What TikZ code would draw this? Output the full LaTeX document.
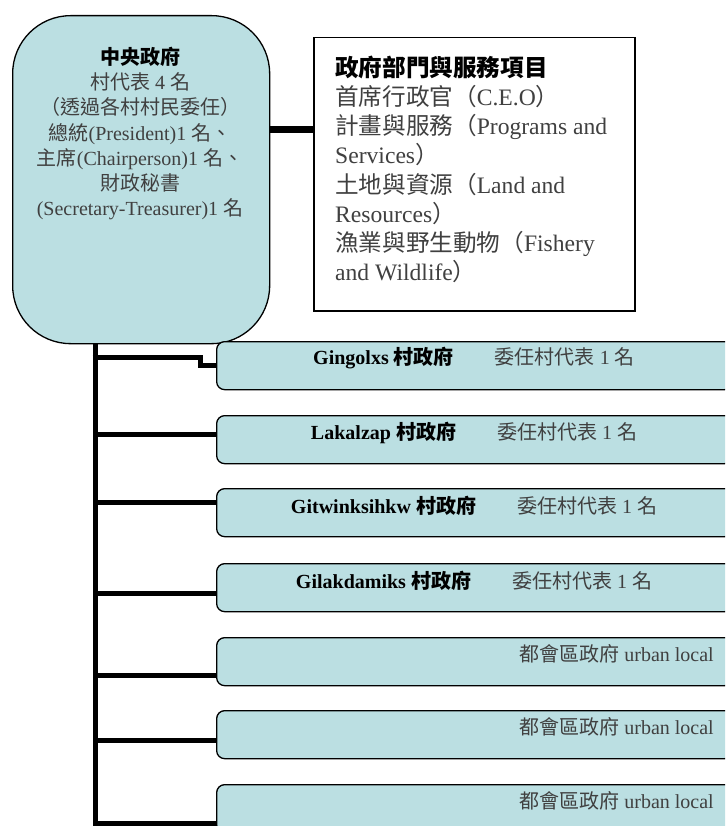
\documentclass[tikz,border=0pt]{standalone}
\usepackage{fontspec}
\setmainfont{Liberation Serif}
\newfontfamily\cjk{Noto Sans CJK TC}
\newcommand\C[1]{{\cjk #1}}
\definecolor{boxfill}{HTML}{BBDFE2}
\definecolor{txtgray}{HTML}{404040}
\begin{document}
\begin{tikzpicture}[x=1pt,y=-1pt,
  bar/.style={line width=5pt},
  thickbar/.style={line width=6.5pt},
  unitbox/.style={draw, line width=1.3pt, fill=boxfill, rounded corners=8pt,
    minimum width=516pt, minimum height=48pt, inner sep=0pt, anchor=north west},
  unittext/.style={font=\fontsize{20}{24}\selectfont, inner sep=0pt},
  urbantext/.style={unittext, text=txtgray, anchor=east},
  centralbox/.style={draw, line width=1.3pt, fill=boxfill, rounded corners=58pt,
    minimum width=257pt, minimum height=328pt, inner sep=0pt, anchor=north west},
  deptbox/.style={draw, line width=1.5pt, fill=white, minimum width=321pt,
    minimum height=273pt, inner sep=0pt, anchor=north west}
]
\useasboundingbox (0,0) rectangle (725,826);
\clip (0,0) rectangle (725,826);

% central government
\node[centralbox] (cg) at (12,15) {};
\node[font=\fontsize{20}{25.2}\selectfont, align=center, text=txtgray,
  inner sep=0pt, anchor=north] (cgt) at (140,47) {%
  \textcolor{black}{\textbf{\C{中央政府}}}\\
  \C{村代表} 4 \C{名}\\
  \C{（透過各村村民委任）}\\
  \C{總統}(President)1 \C{名、}\\
  \C{主席}(Chairperson)1 \C{名、}\\
  \C{財政秘書}\\
  (Secretary-Treasurer)1 \C{名}};

% departments
\node[deptbox] (dep) at (313,37) {};
\node[font=\fontsize{23.6}{29.1}\selectfont, align=left, text=txtgray,
  inner sep=0pt, anchor=north west] (dept) at (335,56) {%
  \textcolor{black}{\textbf{\C{政府部門與服務項目}}}\\
  \C{首席行政官（}C.E.O\C{）}\\
  \C{計畫與服務（}Programs and\\
  Services\C{）}\\
  \C{土地與資源（}Land and\\
  Resources\C{）}\\
  \C{漁業與野生動物（}Fishery\\
  and Wildlife\C{）}};

% unit boxes
\node[unitbox] (b1) at (216,341) {};
\node[unitbox] (b2) at (216,415) {};
\node[unitbox] (b3) at (216,488) {};
\node[unitbox] (b4) at (216,563) {};
\node[unitbox] (b5) at (216,637) {};
\node[unitbox] (b6) at (216,710) {};
\node[unitbox] (b7) at (216,784) {};

\node[unittext] (t1) at (474,358.5) {\textbf{Gingolxs \C{村政府}}\hspace{41pt}\textcolor{txtgray}{\C{委任村代表} 1 \C{名}}};
\node[unittext] (t2) at (474,432.5) {\textbf{Lakalzap \C{村政府}}\hspace{41pt}\textcolor{txtgray}{\C{委任村代表} 1 \C{名}}};
\node[unittext] (t3) at (474,505.5) {\textbf{Gitwinksihkw \C{村政府}}\hspace{41pt}\textcolor{txtgray}{\C{委任村代表} 1 \C{名}}};
\node[unittext] (t4) at (474,580.5) {\textbf{Gilakdamiks \C{村政府}}\hspace{41pt}\textcolor{txtgray}{\C{委任村代表} 1 \C{名}}};
\node[urbantext] (t5) at (714,654) {\C{都會區政府} urban local};
\node[urbantext] (t6) at (714,727) {\C{都會區政府} urban local};
\node[urbantext] (t7) at (714,801) {\C{都會區政府} urban local};

% connectors
\coordinate (j) at (290,129.5);
\draw[thickbar] (j -| cg.east) -- (j -| dep.west);
\draw[bar] (95,0 |- cg.south) -- (95,830);
\draw[bar] (92.5,357) -- (200,357) -- (200,365) -- (200,365 -| b1.west);
\draw[bar] (95,434) -- (95,434 -| b2.west);
\draw[bar] (95,502) -- (95,502 -| b3.west);
\draw[bar] (95,593) -- (95,593 -| b4.west);
\draw[bar] (95,675) -- (95,675 -| b5.west);
\draw[bar] (95,740) -- (95,740 -| b6.west);
\draw[bar] (95,823) -- (95,823 -| b7.west);
\end{tikzpicture}
\end{document}
